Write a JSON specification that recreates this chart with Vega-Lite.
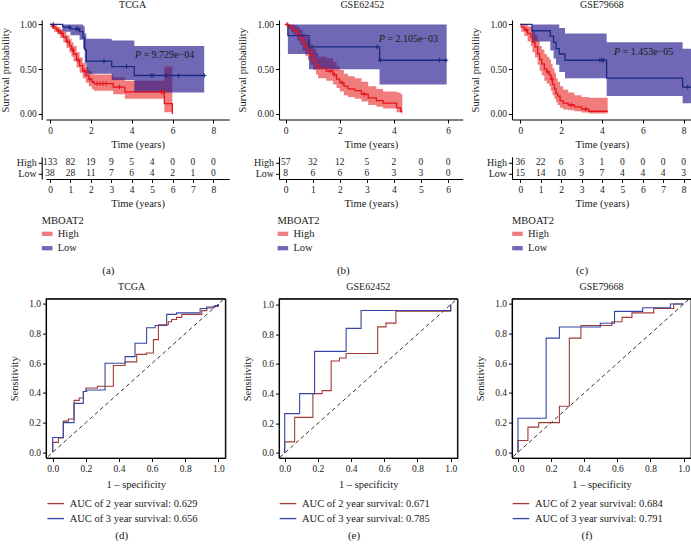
{
"$schema": "https://vega.github.io/schema/vega-lite/v6.json",
"background": "white",
"padding": {"left": 0, "top": 0, "right": 0, "bottom": 0},
"columns": 3,
"align": "none",
"bounds": "flush",
"spacing": {"row": 36.8, "column": 49},
"resolve": {"scale": {"fill": "independent", "stroke": "independent", "color": "independent", "x": "independent", "y": "independent"}, "legend": {"fill": "independent", "stroke": "independent", "color": "independent"}},
"config": {
  "font": "Liberation Serif",
  "view": {"stroke": null},
  "axis": {"labelFont": "Liberation Serif", "titleFont": "Liberation Serif", "labelFontSize": 9.5, "titleFontSize": 10.5, "titleFontWeight": "normal", "grid": false, "domainColor": "#000", "tickColor": "#000", "labelColor": "#1a1a1a", "titleColor": "#1a1a1a", "tickSize": 3.5, "labelPadding": 2, "domainWidth": 1.1, "tickWidth": 1, "labelOverlap": false, "labelBound": false},
  "title": {"font": "Liberation Serif", "fontSize": 10, "fontWeight": "normal", "color": "#1a1a1a"},
  "legend": {"labelFont": "Liberation Serif", "titleFont": "Liberation Serif", "labelColor": "#1a1a1a", "titleColor": "#1a1a1a"}
},
"datasets": {
  "kmA": [
    {"g":"High","t":0,"s":1,"lo":1,"hi":1},
    {"g":"High","t":0.1,"s":0.98,"lo":0.95,"hi":1},
    {"g":"High","t":0.2,"s":0.96,"lo":0.92,"hi":0.99},
    {"g":"High","t":0.35,"s":0.93,"lo":0.89,"hi":0.97},
    {"g":"High","t":0.5,"s":0.9,"lo":0.85,"hi":0.95},
    {"g":"High","t":0.65,"s":0.86,"lo":0.8,"hi":0.92},
    {"g":"High","t":0.8,"s":0.81,"lo":0.74,"hi":0.88},
    {"g":"High","t":0.95,"s":0.76,"lo":0.69,"hi":0.84},
    {"g":"High","t":1.05,"s":0.72,"lo":0.64,"hi":0.8},
    {"g":"High","t":1.15,"s":0.67,"lo":0.59,"hi":0.76},
    {"g":"High","t":1.3,"s":0.6,"lo":0.52,"hi":0.69},
    {"g":"High","t":1.45,"s":0.54,"lo":0.46,"hi":0.63},
    {"g":"High","t":1.6,"s":0.48,"lo":0.4,"hi":0.57},
    {"g":"High","t":1.75,"s":0.43,"lo":0.35,"hi":0.52},
    {"g":"High","t":1.9,"s":0.39,"lo":0.31,"hi":0.48},
    {"g":"High","t":2.05,"s":0.36,"lo":0.28,"hi":0.45},
    {"g":"High","t":2.15,"s":0.34,"lo":0.26,"hi":0.44},
    {"g":"High","t":3.1,"s":0.3,"lo":0.22,"hi":0.41},
    {"g":"High","t":3.67,"s":0.246,"lo":0.17,"hi":0.37},
    {"g":"High","t":5.6,"s":0.116,"lo":0.02,"hi":0.53},
    {"g":"High","t":5.99,"s":0,"lo":0,"hi":0},
    {"g":"Low","t":0,"s":1,"lo":1,"hi":1},
    {"g":"Low","t":0.62,"s":0.97,"lo":0.92,"hi":1},
    {"g":"Low","t":1.0,"s":0.95,"lo":0.88,"hi":1},
    {"g":"Low","t":1.45,"s":0.92,"lo":0.83,"hi":1},
    {"g":"Low","t":1.62,"s":0.85,"lo":0.73,"hi":0.98},
    {"g":"Low","t":1.7,"s":0.72,"lo":0.57,"hi":0.9},
    {"g":"Low","t":1.78,"s":0.59,"lo":0.45,"hi":0.84},
    {"g":"Low","t":3.02,"s":0.53,"lo":0.38,"hi":0.82},
    {"g":"Low","t":4.13,"s":0.43,"lo":0.24,"hi":0.76},
    {"g":"Low","t":7.55,"s":0.43,"lo":0.24,"hi":0.76}
  ],
  "cenA": [
    {"g":"High","t":0.15,"s":0.98},{"g":"High","t":0.42,"s":0.93},{"g":"High","t":0.58,"s":0.9},{"g":"High","t":0.85,"s":0.81},
    {"g":"High","t":1.1,"s":0.72},{"g":"High","t":1.38,"s":0.6},{"g":"High","t":1.68,"s":0.48},{"g":"High","t":1.95,"s":0.39},
    {"g":"High","t":2.3,"s":0.34},{"g":"High","t":2.45,"s":0.34},{"g":"High","t":2.6,"s":0.34},{"g":"High","t":2.75,"s":0.34},
    {"g":"High","t":3.4,"s":0.3},{"g":"High","t":5.45,"s":0.246},{"g":"High","t":5.55,"s":0.246},
    {"g":"Low","t":0.16,"s":1},{"g":"Low","t":0.95,"s":0.97},{"g":"Low","t":1.3,"s":0.95},{"g":"Low","t":1.38,"s":0.95},
    {"g":"Low","t":2.64,"s":0.59},{"g":"Low","t":3.75,"s":0.53},{"g":"Low","t":4.95,"s":0.43},{"g":"Low","t":5.05,"s":0.43},
    {"g":"Low","t":5.68,"s":0.43},{"g":"Low","t":6.3,"s":0.43},{"g":"Low","t":7.55,"s":0.43}
  ],
  "pA": [{"t": 4.16, "s": 0.657, "p": "P", "v": "= 9.729e\u221204"}],
  "kmB": [
    {"g":"High","t":0,"s":1,"lo":1,"hi":1},
    {"g":"High","t":0.1,"s":0.98,"lo":0.95,"hi":1},
    {"g":"High","t":0.2,"s":0.96,"lo":0.91,"hi":1},
    {"g":"High","t":0.3,"s":0.93,"lo":0.87,"hi":0.99},
    {"g":"High","t":0.42,"s":0.89,"lo":0.82,"hi":0.97},
    {"g":"High","t":0.52,"s":0.85,"lo":0.77,"hi":0.94},
    {"g":"High","t":0.62,"s":0.8,"lo":0.71,"hi":0.9},
    {"g":"High","t":0.72,"s":0.75,"lo":0.65,"hi":0.86},
    {"g":"High","t":0.82,"s":0.7,"lo":0.6,"hi":0.82},
    {"g":"High","t":0.92,"s":0.66,"lo":0.55,"hi":0.78},
    {"g":"High","t":1.02,"s":0.6,"lo":0.49,"hi":0.73},
    {"g":"High","t":1.12,"s":0.55,"lo":0.44,"hi":0.68},
    {"g":"High","t":1.2,"s":0.51,"lo":0.4,"hi":0.64},
    {"g":"High","t":1.5,"s":0.48,"lo":0.37,"hi":0.62},
    {"g":"High","t":1.75,"s":0.44,"lo":0.33,"hi":0.58},
    {"g":"High","t":1.88,"s":0.39,"lo":0.29,"hi":0.53},
    {"g":"High","t":2.0,"s":0.35,"lo":0.25,"hi":0.49},
    {"g":"High","t":2.15,"s":0.31,"lo":0.21,"hi":0.45},
    {"g":"High","t":2.3,"s":0.28,"lo":0.19,"hi":0.42},
    {"g":"High","t":2.55,"s":0.26,"lo":0.17,"hi":0.4},
    {"g":"High","t":2.8,"s":0.22,"lo":0.14,"hi":0.36},
    {"g":"High","t":3.05,"s":0.18,"lo":0.1,"hi":0.31},
    {"g":"High","t":3.35,"s":0.15,"lo":0.08,"hi":0.28},
    {"g":"High","t":3.6,"s":0.12,"lo":0.06,"hi":0.25},
    {"g":"High","t":4.1,"s":0.07,"lo":0.02,"hi":0.24},
    {"g":"High","t":4.25,"s":0.03,"lo":0.005,"hi":0.22},
    {"g":"High","t":4.31,"s":0.03,"lo":0.005,"hi":0.22},
    {"g":"Low","t":0,"s":1,"lo":1,"hi":1},
    {"g":"Low","t":0.08,"s":0.875,"lo":0.67,"hi":1},
    {"g":"Low","t":0.86,"s":0.75,"lo":0.5,"hi":1},
    {"g":"Low","t":3.47,"s":0.6,"lo":0.33,"hi":1},
    {"g":"Low","t":5.95,"s":0.6,"lo":0.33,"hi":1}
  ],
  "cenB": [
    {"g":"High","t":0.05,"s":1},{"g":"High","t":1.65,"s":0.48},{"g":"High","t":1.8,"s":0.44},{"g":"High","t":2.08,"s":0.35},{"g":"High","t":2.9,"s":0.22},
    {"g":"Low","t":3.38,"s":0.75},{"g":"Low","t":3.5,"s":0.6},{"g":"Low","t":5.68,"s":0.6},{"g":"Low","t":5.92,"s":0.6}
  ],
  "pB": [{"t": 3.44, "s": 0.843, "p": "P", "v": "= 2.105e\u221203"}],
  "kmC": [
    {"g":"High","t":0,"s":1,"lo":1,"hi":1},
    {"g":"High","t":0.05,"s":0.97,"lo":0.92,"hi":1},
    {"g":"High","t":0.2,"s":0.94,"lo":0.87,"hi":1},
    {"g":"High","t":0.36,"s":0.9,"lo":0.81,"hi":0.98},
    {"g":"High","t":0.52,"s":0.86,"lo":0.76,"hi":0.96},
    {"g":"High","t":0.6,"s":0.8,"lo":0.69,"hi":0.92},
    {"g":"High","t":0.72,"s":0.75,"lo":0.63,"hi":0.88},
    {"g":"High","t":0.85,"s":0.67,"lo":0.55,"hi":0.82},
    {"g":"High","t":0.95,"s":0.61,"lo":0.48,"hi":0.76},
    {"g":"High","t":1.05,"s":0.56,"lo":0.43,"hi":0.72},
    {"g":"High","t":1.18,"s":0.5,"lo":0.37,"hi":0.67},
    {"g":"High","t":1.3,"s":0.47,"lo":0.34,"hi":0.64},
    {"g":"High","t":1.42,"s":0.44,"lo":0.31,"hi":0.61},
    {"g":"High","t":1.5,"s":0.39,"lo":0.26,"hi":0.56},
    {"g":"High","t":1.58,"s":0.33,"lo":0.21,"hi":0.51},
    {"g":"High","t":1.67,"s":0.28,"lo":0.17,"hi":0.46},
    {"g":"High","t":1.75,"s":0.23,"lo":0.13,"hi":0.4},
    {"g":"High","t":1.83,"s":0.2,"lo":0.1,"hi":0.36},
    {"g":"High","t":1.95,"s":0.15,"lo":0.07,"hi":0.31},
    {"g":"High","t":2.1,"s":0.12,"lo":0.05,"hi":0.27},
    {"g":"High","t":2.35,"s":0.1,"lo":0.04,"hi":0.24},
    {"g":"High","t":2.65,"s":0.08,"lo":0.03,"hi":0.21},
    {"g":"High","t":3.0,"s":0.055,"lo":0.015,"hi":0.19},
    {"g":"High","t":3.35,"s":0.03,"lo":0.005,"hi":0.18},
    {"g":"High","t":4.28,"s":0.03,"lo":0.005,"hi":0.18},
    {"g":"Low","t":0,"s":1,"lo":1,"hi":1},
    {"g":"Low","t":0.57,"s":0.93,"lo":0.81,"hi":1},
    {"g":"Low","t":1.47,"s":0.87,"lo":0.71,"hi":1},
    {"g":"Low","t":1.63,"s":0.8,"lo":0.62,"hi":1},
    {"g":"Low","t":1.75,"s":0.73,"lo":0.55,"hi":1},
    {"g":"Low","t":1.91,"s":0.67,"lo":0.47,"hi":0.96},
    {"g":"Low","t":2.19,"s":0.6,"lo":0.4,"hi":0.9},
    {"g":"Low","t":4.23,"s":0.4,"lo":0.2,"hi":0.8},
    {"g":"Low","t":7.95,"s":0.3,"lo":0.12,"hi":0.73},
    {"g":"Low","t":8.36,"s":0.3,"lo":0.12,"hi":0.73}
  ],
  "cenC": [
    {"g":"High","t":0.3,"s":0.94},{"g":"High","t":1.35,"s":0.47},{"g":"High","t":1.55,"s":0.39},{"g":"High","t":2.5,"s":0.1},{"g":"High","t":3.2,"s":0.055},
    {"g":"Low","t":3.9,"s":0.6},{"g":"Low","t":4.0,"s":0.6},{"g":"Low","t":4.08,"s":0.6},{"g":"Low","t":8.2,"s":0.3}
  ],
  "pC": [{"t": 4.59, "s": 0.69, "p": "P", "v": "= 1.453e\u221205"}],
  "riskA": [
    {"g":"High","t":0,"n":133},{"g":"High","t":1,"n":82},{"g":"High","t":2,"n":19},{"g":"High","t":3,"n":9},{"g":"High","t":4,"n":5},{"g":"High","t":5,"n":4},{"g":"High","t":6,"n":0},{"g":"High","t":7,"n":0},{"g":"High","t":8,"n":0},
    {"g":"Low","t":0,"n":38},{"g":"Low","t":1,"n":28},{"g":"Low","t":2,"n":11},{"g":"Low","t":3,"n":7},{"g":"Low","t":4,"n":6},{"g":"Low","t":5,"n":4},{"g":"Low","t":6,"n":2},{"g":"Low","t":7,"n":1},{"g":"Low","t":8,"n":0}
  ],
  "riskB": [
    {"g":"High","t":0,"n":57},{"g":"High","t":1,"n":32},{"g":"High","t":2,"n":12},{"g":"High","t":3,"n":5},{"g":"High","t":4,"n":2},{"g":"High","t":5,"n":0},{"g":"High","t":6,"n":0},
    {"g":"Low","t":0,"n":8},{"g":"Low","t":1,"n":6},{"g":"Low","t":2,"n":6},{"g":"Low","t":3,"n":6},{"g":"Low","t":4,"n":3},{"g":"Low","t":5,"n":3},{"g":"Low","t":6,"n":0}
  ],
  "riskC": [
    {"g":"High","t":0,"n":36},{"g":"High","t":1,"n":22},{"g":"High","t":2,"n":6},{"g":"High","t":3,"n":3},{"g":"High","t":4,"n":1},{"g":"High","t":5,"n":0},{"g":"High","t":6,"n":0},{"g":"High","t":7,"n":0},{"g":"High","t":8,"n":0},
    {"g":"Low","t":0,"n":15},{"g":"Low","t":1,"n":14},{"g":"Low","t":2,"n":10},{"g":"Low","t":3,"n":9},{"g":"Low","t":4,"n":7},{"g":"Low","t":5,"n":4},{"g":"Low","t":6,"n":4},{"g":"Low","t":7,"n":4},{"g":"Low","t":8,"n":3}
  ],
  "diag": [{"x": -0.06, "y": -0.06, "x2": 1.06, "y2": 1.06}],
  "frameD": [{"x": -0.0405, "x2": 1.042, "y": -0.0385, "y2": 1.0364}],
  "frameE": [{"x": -0.0343, "x2": 1.0404, "y": -0.0337, "y2": 1.0404}],
  "frameF": [{"x": -0.0362, "x2": 1.0447, "y": -0.0385, "y2": 1.0364}],
  "rocD": [
    {"c":"AUC of 2 year survival: 0.629","i":0,"x":0,"y":0},{"c":"AUC of 2 year survival: 0.629","i":1,"x":0,"y":0.067},{"c":"AUC of 2 year survival: 0.629","i":2,"x":0.034,"y":0.097},{"c":"AUC of 2 year survival: 0.629","i":3,"x":0.064,"y":0.21},{"c":"AUC of 2 year survival: 0.629","i":4,"x":0.095,"y":0.225},{"c":"AUC of 2 year survival: 0.629","i":5,"x":0.129,"y":0.35},{"c":"AUC of 2 year survival: 0.629","i":6,"x":0.16,"y":0.366},{"c":"AUC of 2 year survival: 0.629","i":7,"x":0.185,"y":0.41},{"c":"AUC of 2 year survival: 0.629","i":8,"x":0.2,"y":0.434},{"c":"AUC of 2 year survival: 0.629","i":9,"x":0.27,"y":0.445},{"c":"AUC of 2 year survival: 0.629","i":10,"x":0.366,"y":0.585},{"c":"AUC of 2 year survival: 0.629","i":11,"x":0.437,"y":0.61},{"c":"AUC of 2 year survival: 0.629","i":12,"x":0.507,"y":0.66},{"c":"AUC of 2 year survival: 0.629","i":13,"x":0.567,"y":0.67},{"c":"AUC of 2 year survival: 0.629","i":14,"x":0.608,"y":0.76},{"c":"AUC of 2 year survival: 0.629","i":15,"x":0.638,"y":0.86},{"c":"AUC of 2 year survival: 0.629","i":16,"x":0.698,"y":0.88},{"c":"AUC of 2 year survival: 0.629","i":17,"x":0.718,"y":0.895},{"c":"AUC of 2 year survival: 0.629","i":18,"x":0.748,"y":0.91},{"c":"AUC of 2 year survival: 0.629","i":19,"x":0.779,"y":0.93},{"c":"AUC of 2 year survival: 0.629","i":20,"x":0.9,"y":0.955},{"c":"AUC of 2 year survival: 0.629","i":21,"x":0.93,"y":0.973},{"c":"AUC of 2 year survival: 0.629","i":22,"x":0.97,"y":0.984},{"c":"AUC of 2 year survival: 0.629","i":23,"x":1,"y":1},
    {"c":"AUC of 3 year survival: 0.656","i":0,"x":0,"y":0},{"c":"AUC of 3 year survival: 0.656","i":1,"x":0,"y":0.1},{"c":"AUC of 3 year survival: 0.656","i":2,"x":0.064,"y":0.2},{"c":"AUC of 3 year survival: 0.656","i":3,"x":0.129,"y":0.33},{"c":"AUC of 3 year survival: 0.656","i":4,"x":0.185,"y":0.41},{"c":"AUC of 3 year survival: 0.656","i":5,"x":0.205,"y":0.42},{"c":"AUC of 3 year survival: 0.656","i":6,"x":0.316,"y":0.6},{"c":"AUC of 3 year survival: 0.656","i":7,"x":0.437,"y":0.645},{"c":"AUC of 3 year survival: 0.656","i":8,"x":0.497,"y":0.735},{"c":"AUC of 3 year survival: 0.656","i":9,"x":0.567,"y":0.84},{"c":"AUC of 3 year survival: 0.656","i":10,"x":0.618,"y":0.855},{"c":"AUC of 3 year survival: 0.656","i":11,"x":0.688,"y":0.93},{"c":"AUC of 3 year survival: 0.656","i":12,"x":0.748,"y":0.94},{"c":"AUC of 3 year survival: 0.656","i":13,"x":0.89,"y":0.97},{"c":"AUC of 3 year survival: 0.656","i":14,"x":0.93,"y":0.98},{"c":"AUC of 3 year survival: 0.656","i":15,"x":0.98,"y":0.99},{"c":"AUC of 3 year survival: 0.656","i":16,"x":1,"y":1}
  ],
  "rocE": [
    {"c":"AUC of 2 year survival: 0.671","i":0,"x":0,"y":0},{"c":"AUC of 2 year survival: 0.671","i":1,"x":0,"y":0.075},{"c":"AUC of 2 year survival: 0.671","i":2,"x":0.06,"y":0.24},{"c":"AUC of 2 year survival: 0.671","i":3,"x":0.17,"y":0.4},{"c":"AUC of 2 year survival: 0.671","i":4,"x":0.225,"y":0.42},{"c":"AUC of 2 year survival: 0.671","i":5,"x":0.28,"y":0.62},{"c":"AUC of 2 year survival: 0.671","i":6,"x":0.33,"y":0.64},{"c":"AUC of 2 year survival: 0.671","i":7,"x":0.37,"y":0.67},{"c":"AUC of 2 year survival: 0.671","i":8,"x":0.56,"y":0.85},{"c":"AUC of 2 year survival: 0.671","i":9,"x":0.61,"y":0.875},{"c":"AUC of 2 year survival: 0.671","i":10,"x":0.67,"y":0.955},{"c":"AUC of 2 year survival: 0.671","i":11,"x":1,"y":1},
    {"c":"AUC of 3 year survival: 0.785","i":0,"x":0,"y":0},{"c":"AUC of 3 year survival: 0.785","i":1,"x":0,"y":0.265},{"c":"AUC of 3 year survival: 0.785","i":2,"x":0.09,"y":0.4},{"c":"AUC of 3 year survival: 0.785","i":3,"x":0.18,"y":0.685},{"c":"AUC of 3 year survival: 0.785","i":4,"x":0.37,"y":0.84},{"c":"AUC of 3 year survival: 0.785","i":5,"x":0.46,"y":0.96},{"c":"AUC of 3 year survival: 0.785","i":6,"x":1,"y":1}
  ],
  "rocF": [
    {"c":"AUC of 2 year survival: 0.684","i":0,"x":0,"y":0},{"c":"AUC of 2 year survival: 0.684","i":1,"x":0,"y":0.08},{"c":"AUC of 2 year survival: 0.684","i":2,"x":0.06,"y":0.17},{"c":"AUC of 2 year survival: 0.684","i":3,"x":0.125,"y":0.2},{"c":"AUC of 2 year survival: 0.684","i":4,"x":0.25,"y":0.31},{"c":"AUC of 2 year survival: 0.684","i":5,"x":0.31,"y":0.77},{"c":"AUC of 2 year survival: 0.684","i":6,"x":0.38,"y":0.855},{"c":"AUC of 2 year survival: 0.684","i":7,"x":0.567,"y":0.88},{"c":"AUC of 2 year survival: 0.684","i":8,"x":0.628,"y":0.91},{"c":"AUC of 2 year survival: 0.684","i":9,"x":0.688,"y":0.94},{"c":"AUC of 2 year survival: 0.684","i":10,"x":0.82,"y":0.97},{"c":"AUC of 2 year survival: 0.684","i":11,"x":0.94,"y":1},{"c":"AUC of 2 year survival: 0.684","i":12,"x":1,"y":1},
    {"c":"AUC of 3 year survival: 0.791","i":0,"x":0,"y":0},{"c":"AUC of 3 year survival: 0.791","i":1,"x":0,"y":0.23},{"c":"AUC of 3 year survival: 0.791","i":2,"x":0.17,"y":0.77},{"c":"AUC of 3 year survival: 0.791","i":3,"x":0.25,"y":0.845},{"c":"AUC of 3 year survival: 0.791","i":4,"x":0.497,"y":0.87},{"c":"AUC of 3 year survival: 0.791","i":5,"x":0.583,"y":0.95},{"c":"AUC of 3 year survival: 0.791","i":6,"x":0.753,"y":0.975},{"c":"AUC of 3 year survival: 0.791","i":7,"x":0.92,"y":1},{"c":"AUC of 3 year survival: 0.791","i":8,"x":1,"y":1}
  ]
},
"concat": [
  {
    "width": 183.3, "height": 99.5,
    "title": {"text": "TCGA", "offset": 9, "dx": -5},
    "layer": [
      {"data": {"name": "kmA"}, "mark": {"type": "area", "interpolate": "step-after", "opacity": 0.65},
       "encoding": {
         "x": {"field": "t", "type": "quantitative", "scale": {"domain": [-0.196, 8.78], "nice": false, "zero": false}, "axis": {"values": [0,1,2,3,4,5,6,7,8], "format": "d", "title": "Time (years)", "titlePadding": 5}},
         "y": {"field": "lo", "type": "quantitative", "scale": {"domain": [-0.062, 1.05], "nice": false, "zero": false}, "axis": {"values": [0,0.25,0.5,0.75,1], "format": ".2f", "title": "Survival probability", "offset": 4.3, "titlePadding": 9}},
         "y2": {"field": "hi"},
         "fill": {"field": "g", "type": "nominal", "scale": {"domain": ["High","Low"], "range": ["#E83535","#23178C"]},
                  "legend": {"title": "MBOAT2", "orient": "none", "legendX": -4.3, "legendY": 196, "symbolType": "M-1,-0.4H1V0.4H-1Z", "symbolSize": 113, "symbolOpacity": 0.65, "symbolStrokeWidth": 0, "labelFontSize": 10.5, "titleFontSize": 10.5, "titleFontWeight": "normal", "rowPadding": 3.4, "titlePadding": 1.8, "labelOffset": 5, "padding": 0}}
       }},
      {"data": {"name": "kmA"}, "mark": {"type": "line", "interpolate": "step-after", "strokeWidth": 1.3},
       "encoding": {
         "x": {"field": "t", "type": "quantitative", "scale": {"domain": [-0.196, 8.78], "nice": false, "zero": false}},
         "y": {"field": "s", "type": "quantitative", "scale": {"domain": [-0.062, 1.05], "nice": false, "zero": false}},
         "stroke": {"field": "g", "type": "nominal", "scale": {"range": ["#E8141B","#1A2A80"]}, "legend": null}
       }},
      {"data": {"name": "cenA"}, "mark": {"type": "point", "shape": "M-1,0H1M0,-1V1", "size": 22, "strokeWidth": 1, "filled": false, "opacity": 1},
       "encoding": {
         "x": {"field": "t", "type": "quantitative", "scale": {"domain": [-0.196, 8.78], "nice": false, "zero": false}},
         "y": {"field": "s", "type": "quantitative", "scale": {"domain": [-0.062, 1.05], "nice": false, "zero": false}},
         "stroke": {"field": "g", "type": "nominal", "scale": {"range": ["#E8141B","#1A2A80"]}, "legend": null}
       }},
      {"data": {"name": "pA"}, "mark": {"type": "text", "align": "left", "baseline": "middle", "fontStyle": "italic", "fontSize": 10, "font": "Liberation Serif", "color": "#1a1a1a"},
       "encoding": {
         "x": {"field": "t", "type": "quantitative", "scale": {"domain": [-0.196, 8.78], "nice": false, "zero": false}},
         "y": {"field": "s", "type": "quantitative", "scale": {"domain": [-0.062, 1.05], "nice": false, "zero": false}},
         "text": {"field": "p"}
       }},
      {"data": {"name": "pA"}, "mark": {"type": "text", "align": "left", "baseline": "middle", "fontSize": 10, "font": "Liberation Serif", "dx": 8.5, "color": "#1a1a1a"},
       "encoding": {
         "x": {"field": "t", "type": "quantitative", "scale": {"domain": [-0.196, 8.78], "nice": false, "zero": false}},
         "y": {"field": "s", "type": "quantitative", "scale": {"domain": [-0.062, 1.05], "nice": false, "zero": false}},
         "text": {"field": "v"}
       }}
    ]
  },
  {
    "width": 183.7, "height": 99.5,
    "title": {"text": "GSE62452", "offset": 9, "dx": -8.5},
    "layer": [
      {"data": {"name": "kmB"}, "mark": {"type": "area", "interpolate": "step-after", "opacity": 0.65},
       "encoding": {
         "x": {"field": "t", "type": "quantitative", "scale": {"domain": [-0.248, 6.543], "nice": false, "zero": false}, "axis": {"values": [0,1,2,3,4,5,6], "format": "d", "title": "Time (years)", "titlePadding": 5}},
         "y": {"field": "lo", "type": "quantitative", "scale": {"domain": [-0.062, 1.05], "nice": false, "zero": false}, "axis": {"values": [0,0.25,0.5,0.75,1], "format": ".2f", "title": "Survival probability", "titlePadding": 9}},
         "y2": {"field": "hi"},
         "fill": {"field": "g", "type": "nominal", "scale": {"domain": ["High","Low"], "range": ["#E83535","#23178C"]},
                  "legend": {"title": "MBOAT2", "orient": "none", "legendX": -1.6, "legendY": 196, "symbolType": "M-1,-0.4H1V0.4H-1Z", "symbolSize": 113, "symbolOpacity": 0.65, "symbolStrokeWidth": 0, "labelFontSize": 10.5, "titleFontSize": 10.5, "titleFontWeight": "normal", "rowPadding": 3.4, "titlePadding": 1.8, "labelOffset": 5, "padding": 0}}
       }},
      {"data": {"name": "kmB"}, "mark": {"type": "line", "interpolate": "step-after", "strokeWidth": 1.3},
       "encoding": {
         "x": {"field": "t", "type": "quantitative", "scale": {"domain": [-0.248, 6.543], "nice": false, "zero": false}},
         "y": {"field": "s", "type": "quantitative", "scale": {"domain": [-0.062, 1.05], "nice": false, "zero": false}},
         "stroke": {"field": "g", "type": "nominal", "scale": {"range": ["#E8141B","#1A2A80"]}, "legend": null}
       }},
      {"data": {"name": "cenB"}, "mark": {"type": "point", "shape": "M-1,0H1M0,-1V1", "size": 22, "strokeWidth": 1, "filled": false, "opacity": 1},
       "encoding": {
         "x": {"field": "t", "type": "quantitative", "scale": {"domain": [-0.248, 6.543], "nice": false, "zero": false}},
         "y": {"field": "s", "type": "quantitative", "scale": {"domain": [-0.062, 1.05], "nice": false, "zero": false}},
         "stroke": {"field": "g", "type": "nominal", "scale": {"range": ["#E8141B","#1A2A80"]}, "legend": null}
       }},
      {"data": {"name": "pB"}, "mark": {"type": "text", "align": "left", "baseline": "middle", "fontStyle": "italic", "fontSize": 10, "font": "Liberation Serif", "color": "#1a1a1a"},
       "encoding": {
         "x": {"field": "t", "type": "quantitative", "scale": {"domain": [-0.248, 6.543], "nice": false, "zero": false}},
         "y": {"field": "s", "type": "quantitative", "scale": {"domain": [-0.062, 1.05], "nice": false, "zero": false}},
         "text": {"field": "p"}
       }},
      {"data": {"name": "pB"}, "mark": {"type": "text", "align": "left", "baseline": "middle", "fontSize": 10, "font": "Liberation Serif", "dx": 8.5, "color": "#1a1a1a"},
       "encoding": {
         "x": {"field": "t", "type": "quantitative", "scale": {"domain": [-0.248, 6.543], "nice": false, "zero": false}},
         "y": {"field": "s", "type": "quantitative", "scale": {"domain": [-0.062, 1.05], "nice": false, "zero": false}},
         "text": {"field": "v"}
       }}
    ]
  },
  {
    "width": 179.8, "height": 99.5,
    "title": {"text": "GSE79668", "offset": 9},
    "layer": [
      {"data": {"name": "kmC"}, "mark": {"type": "area", "interpolate": "step-after", "opacity": 0.65},
       "encoding": {
         "x": {"field": "t", "type": "quantitative", "scale": {"domain": [-0.406, 8.4], "nice": false, "zero": false}, "axis": {"values": [0,1,2,3,4,5,6,7,8], "format": "d", "title": "Time (years)", "titlePadding": 5}},
         "y": {"field": "lo", "type": "quantitative", "scale": {"domain": [-0.062, 1.05], "nice": false, "zero": false}, "axis": {"values": [0,0.25,0.5,0.75,1], "format": ".2f", "title": "Survival probability", "titlePadding": 9}},
         "y2": {"field": "hi"},
         "fill": {"field": "g", "type": "nominal", "scale": {"domain": ["High","Low"], "range": ["#E83535","#23178C"]},
                  "legend": {"title": "MBOAT2", "orient": "none", "legendX": 0, "legendY": 196, "symbolType": "M-1,-0.4H1V0.4H-1Z", "symbolSize": 113, "symbolOpacity": 0.65, "symbolStrokeWidth": 0, "labelFontSize": 10.5, "titleFontSize": 10.5, "titleFontWeight": "normal", "rowPadding": 3.4, "titlePadding": 1.8, "labelOffset": 5, "padding": 0}}
       }},
      {"data": {"name": "kmC"}, "mark": {"type": "line", "interpolate": "step-after", "strokeWidth": 1.3},
       "encoding": {
         "x": {"field": "t", "type": "quantitative", "scale": {"domain": [-0.406, 8.4], "nice": false, "zero": false}},
         "y": {"field": "s", "type": "quantitative", "scale": {"domain": [-0.062, 1.05], "nice": false, "zero": false}},
         "stroke": {"field": "g", "type": "nominal", "scale": {"range": ["#E8141B","#1A2A80"]}, "legend": null}
       }},
      {"data": {"name": "cenC"}, "mark": {"type": "point", "shape": "M-1,0H1M0,-1V1", "size": 22, "strokeWidth": 1, "filled": false, "opacity": 1},
       "encoding": {
         "x": {"field": "t", "type": "quantitative", "scale": {"domain": [-0.406, 8.4], "nice": false, "zero": false}},
         "y": {"field": "s", "type": "quantitative", "scale": {"domain": [-0.062, 1.05], "nice": false, "zero": false}},
         "stroke": {"field": "g", "type": "nominal", "scale": {"range": ["#E8141B","#1A2A80"]}, "legend": null}
       }},
      {"data": {"name": "pC"}, "mark": {"type": "text", "align": "left", "baseline": "middle", "fontStyle": "italic", "fontSize": 10, "font": "Liberation Serif", "color": "#1a1a1a"},
       "encoding": {
         "x": {"field": "t", "type": "quantitative", "scale": {"domain": [-0.406, 8.4], "nice": false, "zero": false}},
         "y": {"field": "s", "type": "quantitative", "scale": {"domain": [-0.062, 1.05], "nice": false, "zero": false}},
         "text": {"field": "p"}
       }},
      {"data": {"name": "pC"}, "mark": {"type": "text", "align": "left", "baseline": "middle", "fontSize": 10, "font": "Liberation Serif", "dx": 8.5, "color": "#1a1a1a"},
       "encoding": {
         "x": {"field": "t", "type": "quantitative", "scale": {"domain": [-0.406, 8.4], "nice": false, "zero": false}},
         "y": {"field": "s", "type": "quantitative", "scale": {"domain": [-0.062, 1.05], "nice": false, "zero": false}},
         "text": {"field": "v"}
       }}
    ]
  },
  {
    "width": 183.3, "height": 104.4,
    "data": {"name": "riskA"},
    "title": {"text": "(a)", "orient": "bottom", "offset": 4, "fontSize": 11, "dx": -29.3},
    "mark": {"type": "text", "fontSize": 9.5, "font": "Liberation Serif", "color": "#1a1a1a"},
    "encoding": {
      "x": {"field": "t", "type": "quantitative", "scale": {"domain": [-0.196, 8.78], "nice": false, "zero": false}, "axis": {"values": [0,1,2,3,4,5,6,7,8], "format": "d", "title": "Time (years)", "offset": -82.2, "titlePadding": 4.5}},
      "y": {"field": "g", "type": "nominal", "sort": null, "scale": {"type": "point", "domain": ["High","Low"], "range": [0, 22.2], "padding": 0.5}, "axis": {"title": null, "offset": 4.3, "labelFontSize": 10}},
      "text": {"field": "n", "type": "quantitative"}
    }
  },
  {
    "width": 183.7, "height": 104.4,
    "data": {"name": "riskB"},
    "title": {"text": "(b)", "orient": "bottom", "offset": 4, "fontSize": 11, "dx": -27.5},
    "mark": {"type": "text", "fontSize": 9.5, "font": "Liberation Serif", "color": "#1a1a1a"},
    "encoding": {
      "x": {"field": "t", "type": "quantitative", "scale": {"domain": [-0.248, 6.543], "nice": false, "zero": false}, "axis": {"values": [0,1,2,3,4,5,6], "format": "d", "title": "Time (years)", "offset": -82.2, "titlePadding": 4.5}},
      "y": {"field": "g", "type": "nominal", "sort": null, "scale": {"type": "point", "domain": ["High","Low"], "range": [0, 22.2], "padding": 0.5}, "axis": {"title": null, "labelFontSize": 10}},
      "text": {"field": "n", "type": "quantitative"}
    }
  },
  {
    "width": 179.8, "height": 104.4,
    "data": {"name": "riskC"},
    "title": {"text": "(c)", "orient": "bottom", "offset": 4, "fontSize": 11, "dx": -19.9},
    "mark": {"type": "text", "fontSize": 9.5, "font": "Liberation Serif", "color": "#1a1a1a"},
    "encoding": {
      "x": {"field": "t", "type": "quantitative", "scale": {"domain": [-0.406, 8.4], "nice": false, "zero": false}, "axis": {"values": [0,1,2,3,4,5,6,7,8], "format": "d", "title": "Time (years)", "offset": -82.2, "titlePadding": 4.5}},
      "y": {"field": "g", "type": "nominal", "sort": null, "scale": {"type": "point", "domain": ["High","Low"], "range": [0, 22.2], "padding": 0.5}, "axis": {"title": null, "labelFontSize": 10}},
      "text": {"field": "n", "type": "quantitative"}
    }
  },
  {
    "width": 179.3, "height": 159.4,
    "title": {"text": "TCGA", "offset": 6, "dx": -4},
    "resolve": {"axis": {"x": "independent", "y": "independent"}},
    "layer": [
      {"data": {"name": "frameD"}, "mark": {"type": "rect", "fill": "transparent", "stroke": "#000", "strokeWidth": 0.8},
       "encoding": {
         "x": {"field": "x", "type": "quantitative", "scale": {"domain": [-0.0405, 1.042], "nice": false, "zero": false}, "axis": null},
         "x2": {"field": "x2"},
         "y": {"field": "y", "type": "quantitative", "scale": {"domain": [-0.0385, 1.0364], "nice": false, "zero": false}, "axis": null},
         "y2": {"field": "y2"}
       }},
      {"data": {"name": "diag"}, "mark": {"type": "rule", "strokeDash": [4, 3], "color": "#333", "strokeWidth": 1, "clip": true},
       "encoding": {
         "x": {"field": "x", "type": "quantitative", "scale": {"domain": [-0.0405, 1.042], "nice": false, "zero": false}, "axis": {"orient": "bottom", "values": [0,0.2,0.4,0.6,0.8,1], "format": ".1f", "title": "1 \u2013 specificity", "titlePadding": 6, "zindex": 1}},
         "y": {"field": "y", "type": "quantitative", "scale": {"domain": [-0.0385, 1.0364], "nice": false, "zero": false}, "axis": {"orient": "left", "values": [0,0.2,0.4,0.6,0.8,1], "format": ".1f", "title": "Sensitivity", "titlePadding": 9, "zindex": 1}},
         "x2": {"field": "x2"}, "y2": {"field": "y2"}
       }},
      {"data": {"name": "rocD"}, "mark": {"type": "line", "interpolate": "step-after", "strokeWidth": 1.1},
       "encoding": {
         "x": {"field": "x", "type": "quantitative", "scale": {"domain": [-0.0405, 1.042], "nice": false, "zero": false}, "axis": {"orient": "top", "labels": false, "ticks": false, "title": null, "zindex": 1}},
         "y": {"field": "y", "type": "quantitative", "scale": {"domain": [-0.0385, 1.0364], "nice": false, "zero": false}, "axis": {"orient": "right", "labels": false, "ticks": false, "title": null, "zindex": 1}},
         "order": {"field": "i", "type": "quantitative"},
         "color": {"field": "c", "type": "nominal", "scale": {"domain": ["AUC of 2 year survival: 0.629", "AUC of 3 year survival: 0.656"], "range": ["#A23A36", "#3346A8"]},
                   "legend": {"title": "(d)", "titleOrient": "bottom", "titleAnchor": "middle", "orient": "none", "legendX": 0.7, "legendY": 196, "symbolType": "stroke", "symbolSize": 276, "symbolStrokeWidth": 1.3, "labelFontSize": 10.5, "titleFontSize": 11, "titleFontWeight": "normal", "rowPadding": -1.5, "titlePadding": 5, "labelOffset": 5, "padding": 0, "labelLimit": 300}}
       }}
    ]
  },
  {
    "width": 178.4, "height": 159.4,
    "title": {"text": "GSE62452", "offset": 6},
    "resolve": {"axis": {"x": "independent", "y": "independent"}},
    "layer": [
      {"data": {"name": "frameE"}, "mark": {"type": "rect", "fill": "transparent", "stroke": "#000", "strokeWidth": 0.8},
       "encoding": {
         "x": {"field": "x", "type": "quantitative", "scale": {"domain": [-0.0343, 1.0404], "nice": false, "zero": false}, "axis": null},
         "x2": {"field": "x2"},
         "y": {"field": "y", "type": "quantitative", "scale": {"domain": [-0.0337, 1.0404], "nice": false, "zero": false}, "axis": null},
         "y2": {"field": "y2"}
       }},
      {"data": {"name": "diag"}, "mark": {"type": "rule", "strokeDash": [4, 3], "color": "#333", "strokeWidth": 1, "clip": true},
       "encoding": {
         "x": {"field": "x", "type": "quantitative", "scale": {"domain": [-0.0343, 1.0404], "nice": false, "zero": false}, "axis": {"orient": "bottom", "values": [0,0.2,0.4,0.6,0.8,1], "format": ".1f", "title": "1 \u2013 specificity", "titlePadding": 6, "zindex": 1}},
         "y": {"field": "y", "type": "quantitative", "scale": {"domain": [-0.0337, 1.0404], "nice": false, "zero": false}, "axis": {"orient": "left", "values": [0,0.2,0.4,0.6,0.8,1], "format": ".1f", "title": "Sensitivity", "titlePadding": 9, "zindex": 1}},
         "x2": {"field": "x2"}, "y2": {"field": "y2"}
       }},
      {"data": {"name": "rocE"}, "mark": {"type": "line", "interpolate": "step-after", "strokeWidth": 1.1},
       "encoding": {
         "x": {"field": "x", "type": "quantitative", "scale": {"domain": [-0.0343, 1.0404], "nice": false, "zero": false}, "axis": {"orient": "top", "labels": false, "ticks": false, "title": null, "zindex": 1}},
         "y": {"field": "y", "type": "quantitative", "scale": {"domain": [-0.0337, 1.0404], "nice": false, "zero": false}, "axis": {"orient": "right", "labels": false, "ticks": false, "title": null, "zindex": 1}},
         "order": {"field": "i", "type": "quantitative"},
         "color": {"field": "c", "type": "nominal", "scale": {"domain": ["AUC of 2 year survival: 0.671", "AUC of 3 year survival: 0.785"], "range": ["#A23A36", "#3346A8"]},
                   "legend": {"title": "(e)", "titleOrient": "bottom", "titleAnchor": "middle", "orient": "none", "legendX": 0, "legendY": 196, "symbolType": "stroke", "symbolSize": 276, "symbolStrokeWidth": 1.3, "labelFontSize": 10.5, "titleFontSize": 11, "titleFontWeight": "normal", "rowPadding": -1.5, "titlePadding": 5, "labelOffset": 5, "padding": 0, "labelLimit": 300}}
       }}
    ]
  },
  {
    "width": 179, "height": 159.4,
    "title": {"text": "GSE79668", "offset": 6},
    "resolve": {"axis": {"x": "independent", "y": "independent"}},
    "layer": [
      {"data": {"name": "frameF"}, "mark": {"type": "rect", "fill": "transparent", "stroke": "#000", "strokeWidth": 0.8},
       "encoding": {
         "x": {"field": "x", "type": "quantitative", "scale": {"domain": [-0.0362, 1.0447], "nice": false, "zero": false}, "axis": null},
         "x2": {"field": "x2"},
         "y": {"field": "y", "type": "quantitative", "scale": {"domain": [-0.0385, 1.0364], "nice": false, "zero": false}, "axis": null},
         "y2": {"field": "y2"}
       }},
      {"data": {"name": "diag"}, "mark": {"type": "rule", "strokeDash": [4, 3], "color": "#333", "strokeWidth": 1, "clip": true},
       "encoding": {
         "x": {"field": "x", "type": "quantitative", "scale": {"domain": [-0.0362, 1.0447], "nice": false, "zero": false}, "axis": {"orient": "bottom", "values": [0,0.2,0.4,0.6,0.8,1], "format": ".1f", "title": "1 \u2013 specificity", "titlePadding": 6, "zindex": 1}},
         "y": {"field": "y", "type": "quantitative", "scale": {"domain": [-0.0385, 1.0364], "nice": false, "zero": false}, "axis": {"orient": "left", "values": [0,0.2,0.4,0.6,0.8,1], "format": ".1f", "title": "Sensitivity", "titlePadding": 9, "zindex": 1}},
         "x2": {"field": "x2"}, "y2": {"field": "y2"}
       }},
      {"data": {"name": "rocF"}, "mark": {"type": "line", "interpolate": "step-after", "strokeWidth": 1.1},
       "encoding": {
         "x": {"field": "x", "type": "quantitative", "scale": {"domain": [-0.0362, 1.0447], "nice": false, "zero": false}, "axis": {"orient": "top", "labels": false, "ticks": false, "title": null, "zindex": 1}},
         "y": {"field": "y", "type": "quantitative", "scale": {"domain": [-0.0385, 1.0364], "nice": false, "zero": false}, "axis": {"orient": "right", "labels": false, "ticks": false, "title": null, "zindex": 1}},
         "order": {"field": "i", "type": "quantitative"},
         "color": {"field": "c", "type": "nominal", "scale": {"domain": ["AUC of 2 year survival: 0.684", "AUC of 3 year survival: 0.791"], "range": ["#A23A36", "#3346A8"]},
                   "legend": {"title": "(f)", "titleOrient": "bottom", "titleAnchor": "middle", "orient": "none", "legendX": 0, "legendY": 196, "symbolType": "stroke", "symbolSize": 276, "symbolStrokeWidth": 1.3, "labelFontSize": 10.5, "titleFontSize": 11, "titleFontWeight": "normal", "rowPadding": -1.5, "titlePadding": 5, "labelOffset": 5, "padding": 0, "labelLimit": 300}}
       }}
    ]
  }
]
}
